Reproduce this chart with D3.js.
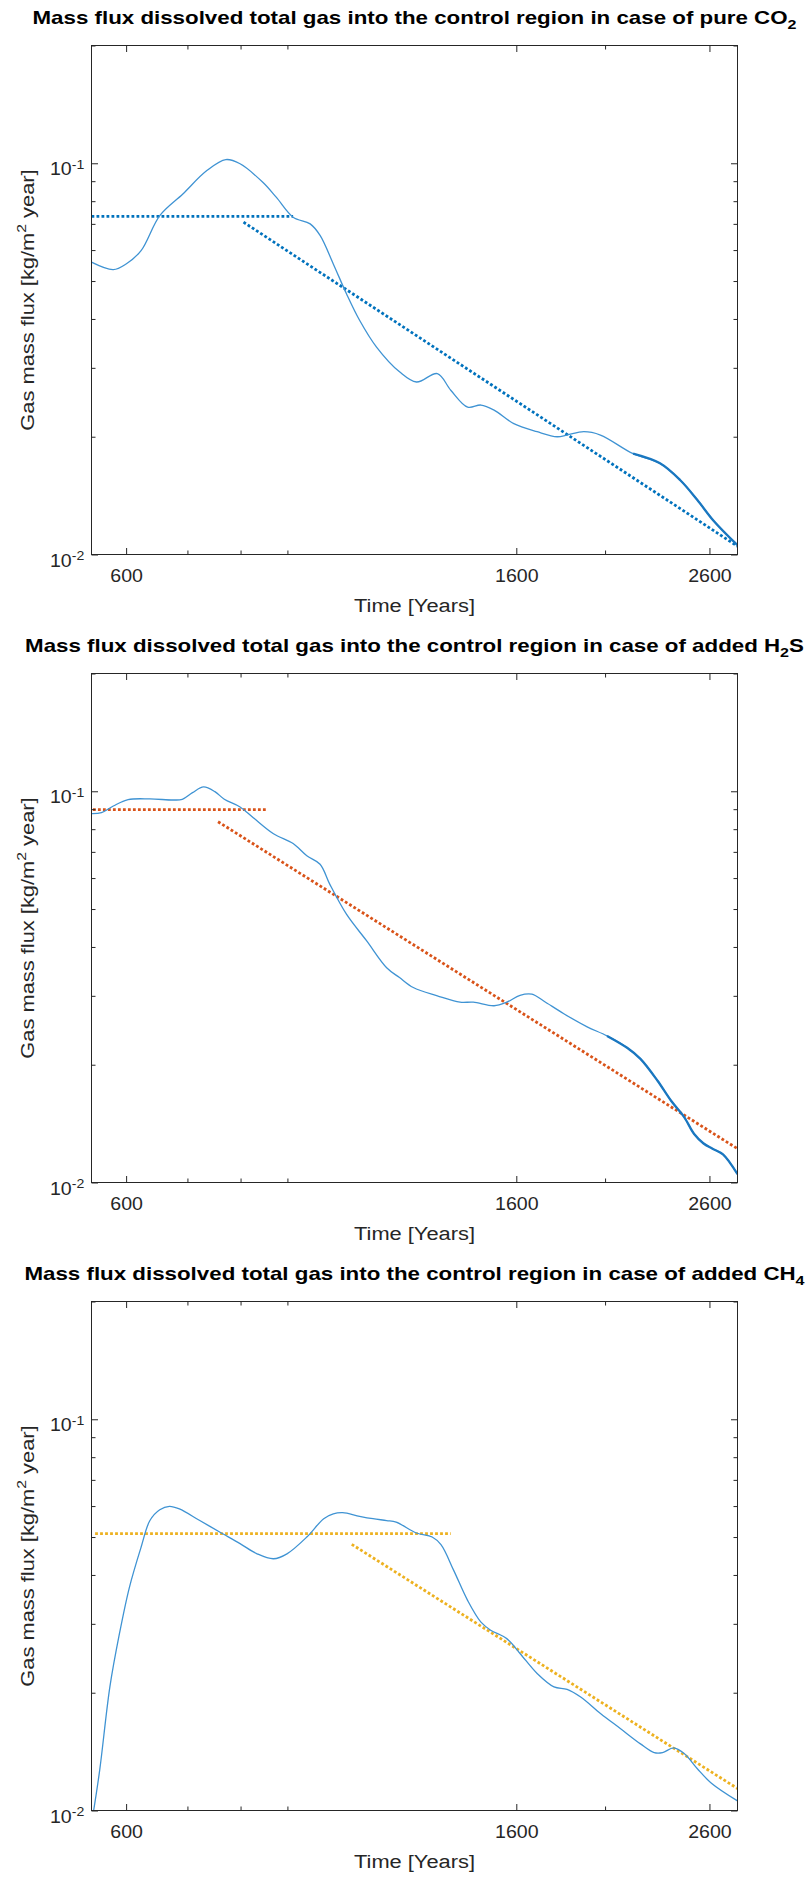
<!DOCTYPE html>
<html>
<head>
<meta charset="utf-8">
<script src="https://cdn.jsdelivr.net/npm/d3@7"></script>
<style>
  html, body { margin: 0; padding: 0; background: #fff; }
  svg { display: block; }
</style>
</head>
<body>
<svg id="fig" width="808" height="1879"></svg>
<script>
// ---- shared axis settings ----
const timeDomain = [550, 2790];
const fluxDomain = [0.01, 0.2];
const timeTicks = [600, 1600, 2600];
const timeMinorTicks = [700, 800, 900, 2000];
const fluxTicks = [0.01, 0.1];
const fluxTickExponents = ["-2", "-1"];
const fluxMinorTicks = [0.02, 0.03, 0.04, 0.05, 0.06, 0.07, 0.08, 0.09, 0.2];

// ---- pure CO2 ----
const co2Time = [550, 581, 600, 623, 653, 692, 735, 771, 799, 846, 875, 913, 953, 977, 1010, 1044, 1079, 1126, 1193, 1245, 1312, 1357, 1416, 1464, 1513, 1590, 1686, 1773, 1818, 1896, 1977, 2146, 2296, 2415, 2521, 2627, 2790];
const co2Flux = [0.0559, 0.0535, 0.0553, 0.0598, 0.0735, 0.0835, 0.0958, 0.1022, 0.0997, 0.0894, 0.0819, 0.0728, 0.0700, 0.0654, 0.0553, 0.0464, 0.0397, 0.0339, 0.0293, 0.0276, 0.0290, 0.0263, 0.0238, 0.0241, 0.0234, 0.0216, 0.0206, 0.0200, 0.0202, 0.0206, 0.0202, 0.0181, 0.0171, 0.0155, 0.0138, 0.0122, 0.01056];
const co2DenseFrom = 2146;
const co2PlateauFit = [[550, 0.0732], [913, 0.0732]];
const co2DeclineFit = [[806, 0.0707], [2790, 0.0105]];

// ---- added H2S ----
const h2sTime = [550, 564, 581, 603, 637, 676, 691, 709, 729, 750, 768, 799, 826, 869, 913, 945, 977, 1001, 1044, 1098, 1155, 1193, 1235, 1312, 1389, 1436, 1513, 1562, 1615, 1664, 1714, 1803, 1912, 2010, 2114, 2186, 2282, 2360, 2440, 2502, 2560, 2620, 2690, 2790];
const h2sFlux = [0.0877, 0.0882, 0.0917, 0.0952, 0.0956, 0.0950, 0.0954, 0.0992, 0.1026, 0.0998, 0.0954, 0.0912, 0.0856, 0.0779, 0.0735, 0.0684, 0.0651, 0.0579, 0.0485, 0.0415, 0.0354, 0.0334, 0.0315, 0.0300, 0.0289, 0.0289, 0.0283, 0.0289, 0.0301, 0.0303, 0.0291, 0.0270, 0.0250, 0.0237, 0.0221, 0.0207, 0.0182, 0.0162, 0.0147, 0.0133, 0.0126, 0.0122, 0.0118, 0.0105];
const h2sDenseFrom = 2010;
const h2sPlateauFit = [[552, 0.0898], [854, 0.0898]];
const h2sDeclineFit = [[756, 0.0836], [2790, 0.0122]];

// ---- added CH4 ----
const ch4Time = [553, 561.5, 576, 590, 605, 623, 637, 653, 669, 686, 722, 759, 799, 834, 869, 899, 945, 986, 1010, 1034, 1079, 1116, 1155, 1183, 1245, 1295, 1324, 1367, 1416, 1464, 1500, 1562, 1615, 1686, 1759, 1818, 1881, 1977, 2078, 2186, 2263, 2311, 2376, 2440, 2521, 2613, 2790];
const ch4Flux = [0.0100, 0.0127, 0.0207, 0.0283, 0.0372, 0.0471, 0.0551, 0.0587, 0.0599, 0.0590, 0.0551, 0.0515, 0.0481, 0.0453, 0.0440, 0.0453, 0.0500, 0.0557, 0.0573, 0.0577, 0.0565, 0.0557, 0.0551, 0.0546, 0.0512, 0.0500, 0.0478, 0.0411, 0.0344, 0.0303, 0.0289, 0.0275, 0.0252, 0.0224, 0.0207, 0.0204, 0.0195, 0.0177, 0.0162, 0.0148, 0.01406, 0.01406, 0.01445, 0.01398, 0.0128, 0.01174, 0.01058];
const ch4DenseFrom = null;
const ch4PlateauFit = [[555, 0.0510], [1357, 0.0510]];
const ch4DeclineFit = [[1058, 0.0479], [2790, 0.01138]];

// ---- titles ----
const titleStem = "Mass flux dissolved total gas into the control region in case of ";
const co2Title = [{t: titleStem + "pure CO"}, {t: "2", sub: true}];
const h2sTitle = [{t: titleStem + "added H"}, {t: "2", sub: true}, {t: "S"}];
const ch4Title = [{t: titleStem + "added CH"}, {t: "4", sub: true}];
const xLabel = [{t: "Time [Years]"}];
const yLabel = [{t: "Gas mass flux [kg/m"}, {t: "2", sup: true}, {t: " year]"}];

// ---- layout & style ----
const plotLeft = 91.5, plotRight = 737.5, plotHeight = 509;
const panelTops = [45.5, 673.5, 1301.5];
const axisColor = "#262626";
const fontFamily = "'Liberation Sans', Arial, Helvetica, sans-serif";
const curveColor = "#3f93d3";
const denseColor = "#1a77c0";
const fitColors = ["#0072BD", "#D95319", "#EDB120"];

const panels = [
  {time: co2Time, flux: co2Flux, dense: co2DenseFrom, fits: [co2PlateauFit, co2DeclineFit], title: co2Title},
  {time: h2sTime, flux: h2sFlux, dense: h2sDenseFrom, fits: [h2sPlateauFit, h2sDeclineFit], title: h2sTitle},
  {time: ch4Time, flux: ch4Flux, dense: ch4DenseFrom, fits: [ch4PlateauFit, ch4DeclineFit], title: ch4Title}
];

const svg = d3.select("#fig");

// Text with optional sub/superscript runs, stretched horizontally along its own direction.
function richText(parent, x, y, parts, opts) {
  const size = opts.size;
  const g = parent.append("g")
    .attr("transform", `translate(${x},${y}) rotate(${opts.rotate || 0}) scale(${opts.sx || 1},1)`);
  const text = g.append("text")
    .attr("text-anchor", opts.anchor || "middle")
    .attr("font-family", fontFamily)
    .attr("font-size", size)
    .attr("font-weight", opts.weight || "normal")
    .attr("fill", opts.color || axisColor);
  let shift = 0;
  parts.forEach(p => {
    const target = p.sub ? size * 0.27 : p.sup ? -size * 0.42 : 0;
    const span = text.append("tspan").attr("dy", target - shift).text(p.t);
    if (p.sub || p.sup) span.attr("font-size", size * 0.72);
    shift = target;
  });
  return g;
}

panels.forEach((p, i) => {
  const top = panelTops[i];
  const bottom = top + plotHeight;
  const x = d3.scaleLog().domain(timeDomain).range([plotLeft, plotRight]);
  const y = d3.scaleLog().domain(fluxDomain).range([bottom, top]);

  const g = svg.append("g");

  const clipId = "clip" + i;
  g.append("clipPath").attr("id", clipId)
    .append("rect").attr("x", plotLeft).attr("y", top)
    .attr("width", plotRight - plotLeft).attr("height", plotHeight);

  const plot = g.append("g").attr("clip-path", `url(#${clipId})`);
  const series = p.time.map((t, k) => [t, p.flux[k]]);
  const line = d3.line().x(d => x(d[0])).y(d => y(d[1])).curve(d3.curveCatmullRom.alpha(0.5));

  // fitted trend lines (dotted)
  p.fits.forEach(f => {
    plot.append("path")
      .attr("d", d3.line().x(d => x(d[0])).y(d => y(d[1]))(f))
      .attr("fill", "none")
      .attr("stroke", fitColors[i])
      .attr("stroke-width", 2.8)
      .attr("stroke-dasharray", "2.8 2.2");
  });

  // simulated flux
  plot.append("path")
    .attr("d", line(series))
    .attr("fill", "none")
    .attr("stroke", curveColor)
    .attr("stroke-width", 1.3);

  if (p.dense !== null) {
    const tail = series.filter(d => d[0] >= p.dense);
    plot.append("path")
      .attr("d", line(tail))
      .attr("fill", "none")
      .attr("stroke", denseColor)
      .attr("stroke-width", 2.3);
  }

  // axes box
  g.append("rect")
    .attr("x", plotLeft).attr("y", top)
    .attr("width", plotRight - plotLeft).attr("height", plotHeight)
    .attr("fill", "none").attr("stroke", axisColor).attr("stroke-width", 1);

  const styleAxis = sel => {
    sel.select(".domain").remove();
    sel.selectAll("line").attr("stroke", axisColor).attr("stroke-width", 1);
    sel.selectAll("text").attr("fill", axisColor).attr("font-family", fontFamily);
  };

  // bottom axis with labels
  const xb = g.append("g").attr("transform", `translate(0,${bottom})`)
    .call(d3.axisBottom(x).tickValues(timeTicks).tickSize(-6.5).tickSizeOuter(0).tickFormat(d3.format("d")));
  styleAxis(xb);
  xb.selectAll("text")
    .attr("font-size", 17.5)
    .attr("y", 27.5).attr("dy", 0)
    .attr("transform", "scale(1.12,1)");
  g.append("g").attr("transform", `translate(0,${bottom})`)
    .call(d3.axisBottom(x).tickValues(timeMinorTicks).tickSize(-4).tickSizeOuter(0).tickFormat(""))
    .call(styleAxis);

  // top mirror ticks
  g.append("g").attr("transform", `translate(0,${top})`)
    .call(d3.axisTop(x).tickValues(timeTicks).tickSize(-6.5).tickSizeOuter(0).tickFormat(""))
    .call(styleAxis);
  g.append("g").attr("transform", `translate(0,${top})`)
    .call(d3.axisTop(x).tickValues(timeMinorTicks).tickSize(-4).tickSizeOuter(0).tickFormat(""))
    .call(styleAxis);

  // left axis with power-of-ten labels
  const yl = g.append("g").attr("transform", `translate(${plotLeft},0)`)
    .call(d3.axisLeft(y).tickValues(fluxTicks).tickSize(-6.5).tickSizeOuter(0).tickFormat(""));
  styleAxis(yl);
  yl.selectAll(".tick text").each(function(d, k) {
    const t = d3.select(this)
      .attr("x", -6.5).attr("dy", 0).attr("y", 0)
      .attr("text-anchor", "end")
      .attr("font-size", 17.5)
      .attr("transform", "scale(1.12,1)");
    t.append("tspan").attr("dy", 11.5).text("10");
    t.append("tspan").attr("dy", -6.5).attr("font-size", 12.6).text(fluxTickExponents[k]);
  });
  g.append("g").attr("transform", `translate(${plotLeft},0)`)
    .call(d3.axisLeft(y).tickValues(fluxMinorTicks).tickSize(-4).tickSizeOuter(0).tickFormat(""))
    .call(styleAxis);

  // right mirror ticks
  g.append("g").attr("transform", `translate(${plotRight},0)`)
    .call(d3.axisRight(y).tickValues(fluxTicks).tickSize(-6.5).tickSizeOuter(0).tickFormat(""))
    .call(styleAxis);
  g.append("g").attr("transform", `translate(${plotRight},0)`)
    .call(d3.axisRight(y).tickValues(fluxMinorTicks).tickSize(-4).tickSizeOuter(0).tickFormat(""))
    .call(styleAxis);

  const midX = (plotLeft + plotRight) / 2;
  // title
  richText(g, midX, top - 21.5, p.title, {size: 19, weight: "bold", sx: 1.175, color: "#000"});
  // axis labels
  richText(g, midX, bottom + 57.5, xLabel, {size: 19, sx: 1.15});
  richText(g, 34, top + plotHeight / 2, yLabel, {size: 19, sx: 1.15, rotate: -90});
});
</script>
</body>
</html>
